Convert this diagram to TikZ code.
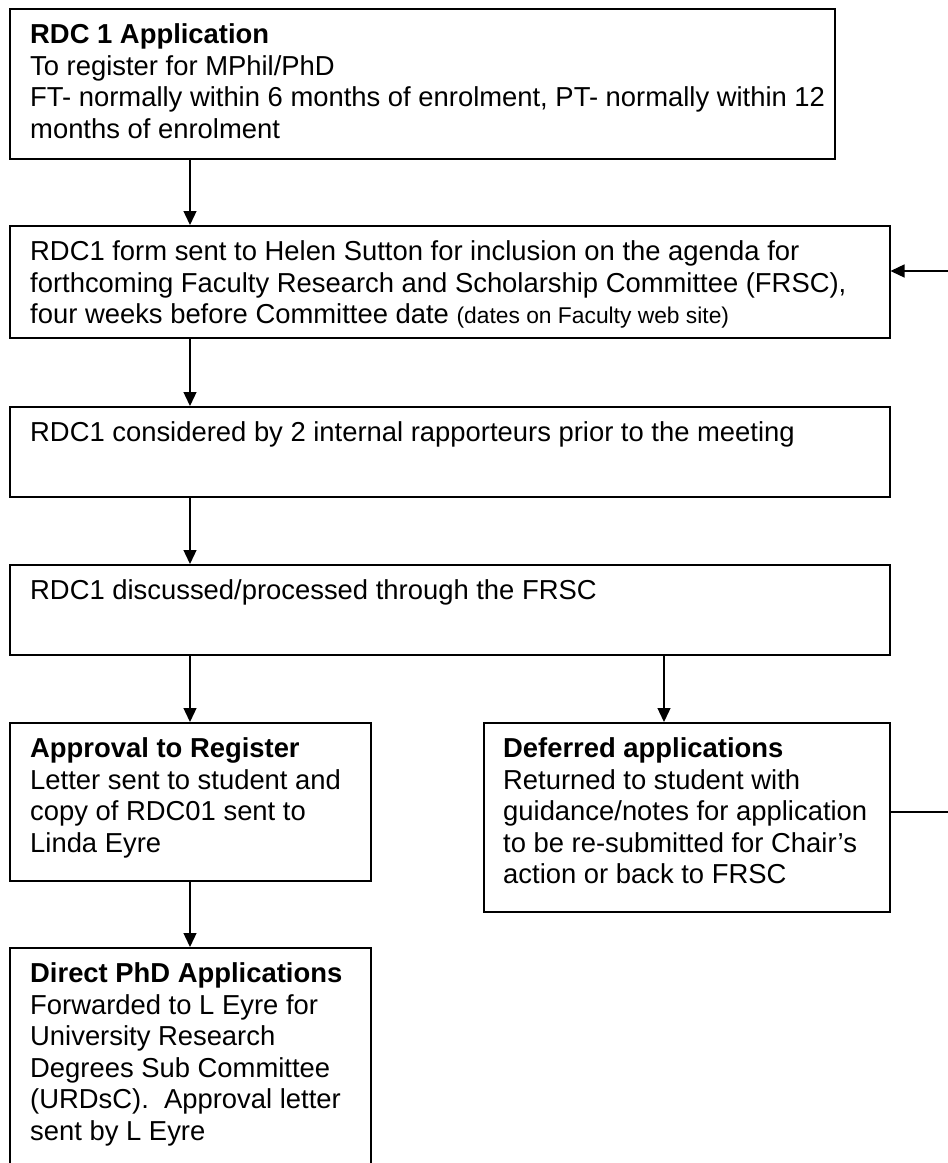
\documentclass[tikz,border=0pt]{standalone}
\usepackage{fontspec}
\setmainfont{Liberation Sans}
\usetikzlibrary{arrows.meta}
\tikzset{
  box/.style={draw=black, line width=1.5pt, rectangle, inner sep=0pt, anchor=north west},
  txt/.style={inner sep=0pt, anchor=north west, align=left, font=\fontsize{27.4}{31.5}\selectfont},
  arr/.style={draw=black, line width=1.3pt, -{Triangle[length=14pt,width=13pt]}},
  ln/.style={draw=black, line width=1.3pt}
}
\newcommand{\smalltxt}{\fontsize{22.8}{31.5}\selectfont}
\begin{document}
\begin{tikzpicture}[x=1pt,y=-1pt]
\useasboundingbox (0,0) rectangle (948,1163);
\clip (0,0) rectangle (948,1163);
% boxes
\node[box, minimum width=825pt, minimum height=150pt] (b1) at (9,8) {};
\node[box, minimum width=880pt, minimum height=112pt] (b2) at (9,225) {};
\node[box, minimum width=880pt, minimum height=90pt] (b3) at (9,406) {};
\node[box, minimum width=880pt, minimum height=90pt] (b4) at (9,564) {};
\node[box, minimum width=361pt, minimum height=158pt] (b5) at (9,722) {};
\node[box, minimum width=406pt, minimum height=189pt] (b6) at (483,722) {};
\node[box, minimum width=361pt, minimum height=240pt] (b7) at (9,947) {};
% texts
\node[txt] (t1) at ([shift={(21pt,-13.5pt)}]b1.north west) {\strut\textbf{RDC 1 Application}\\To register for MPhil/PhD\\FT- normally within 6 months of enrolment, PT- normally within 12\\months of enrolment};
\node[txt] (t2) at ([shift={(21pt,-13.5pt)}]b2.north west) {\strut RDC1 form sent to Helen Sutton for inclusion on the agenda for\\forthcoming Faculty Research and Scholarship Committee (FRSC),\\four weeks before Committee date {\smalltxt (dates on Faculty web site)}};
\node[txt] (t3) at ([shift={(21pt,-13.5pt)}]b3.north west) {\strut RDC1 considered by 2 internal rapporteurs prior to the meeting};
\node[txt] (t4) at ([shift={(21pt,-13.5pt)}]b4.north west) {\strut RDC1 discussed/processed through the FRSC};
\node[txt] (t5) at ([shift={(21pt,-13.5pt)}]b5.north west) {\strut\textbf{Approval to Register}\\Letter sent to student and\\copy of RDC01 sent to\\Linda Eyre};
\node[txt] (t6) at ([shift={(20pt,-13.5pt)}]b6.north west) {\strut\textbf{Deferred applications}\\Returned to student with\\guidance/notes for application\\to be re-submitted for Chair’s\\action or back to FRSC};
\node[txt] (t7) at ([shift={(21pt,-13.5pt)}]b7.north west) {\strut\textbf{Direct PhD Applications}\\Forwarded to L Eyre for\\University Research\\Degrees Sub Committee\\(URDsC).~ Approval letter\\sent by L Eyre};
% connector guides
\coordinate (cx) at (190,0);
\coordinate (dx) at (664,0);
\coordinate (fbin) at (948,271);
\coordinate (fbout) at (948,812);
% connectors
\draw[arr] (cx |- b1.south) -- (cx |- b2.north);
\draw[arr] (cx |- b2.south) -- (cx |- b3.north);
\draw[arr] (cx |- b3.south) -- (cx |- b4.north);
\draw[arr] (cx |- b4.south) -- (cx |- b5.north);
\draw[arr] (dx |- b4.south) -- (dx |- b6.north);
\draw[arr] (cx |- b5.south) -- (cx |- b7.north);
\draw[arr] (fbin) -- (fbin -| b2.east);
\draw[ln] (fbout -| b6.east) -- (fbout);
\end{tikzpicture}
\end{document}
